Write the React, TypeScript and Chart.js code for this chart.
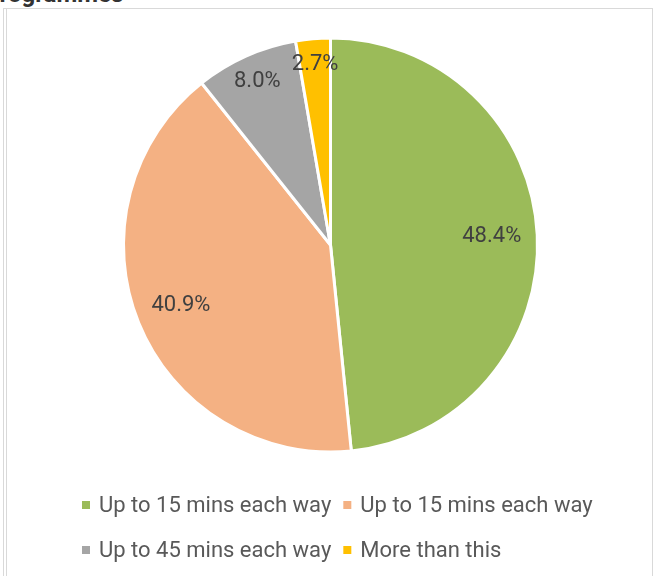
import { useEffect, useRef } from "react";
import { Chart, registerables } from "chart.js";

Chart.register(...registerables);

const categories = [
  "Up to 15 mins each way",
  "Up to 15 mins each way",
  "Up to 45 mins each way",
  "More than this",
];
const shares = [48.4, 40.9, 8.0, 2.7];
const valueLabels = ["48.4%", "40.9%", "8.0%", "2.7%"];
const sliceColors = ["#9BBB59", "#F4B183", "#A5A5A5", "#FFC000"];
const legendRows = [
  [0, 1],
  [2, 3],
];

const FONT = "Roboto, 'Open Sans', sans-serif";
const labelRadiusFrac = [0.78, 0.78, 0.865, 0.875];

const sliceLabelPlugin = {
  id: "sliceLabels",
  afterDatasetsDraw(chart: any) {
    const ctx = chart.ctx;
    const meta = chart.getDatasetMeta(0);
    ctx.save();
    ctx.font = `22px ${FONT}`;
    ctx.fillStyle = "#404040";
    ctx.textAlign = "center";
    ctx.textBaseline = "middle";
    meta.data.forEach((arc: any, i: number) => {
      const p = arc.getProps(["x", "y", "startAngle", "endAngle", "outerRadius"], true);
      const mid = (p.startAngle + p.endAngle) / 2;
      const r = p.outerRadius * labelRadiusFrac[i];
      ctx.fillText(valueLabels[i], p.x + Math.cos(mid) * r, p.y + Math.sin(mid) * r);
    });
    ctx.restore();
  },
};

const customLegendPlugin = {
  id: "customLegend",
  afterDraw(chart: any) {
    const ctx = chart.ctx;
    const labels = chart.data.labels as string[];
    const colors = chart.data.datasets[0].backgroundColor as string[];
    const startX = 82;
    const rowY = [505, 550];
    ctx.save();
    ctx.font = `22px ${FONT}`;
    ctx.textBaseline = "middle";
    ctx.textAlign = "left";
    legendRows.forEach((row, r) => {
      let x = startX;
      const y = rowY[r];
      row.forEach((idx) => {
        ctx.fillStyle = colors[idx];
        ctx.fillRect(x, y - 4, 8, 8);
        ctx.fillStyle = "#595959";
        ctx.fillText(labels[idx], x + 17, y + 1);
        x += 17 + ctx.measureText(labels[idx]).width + 12;
      });
    });
    ctx.restore();
  },
};

export default function App() {
  const canvasRef = useRef<HTMLCanvasElement | null>(null);

  useEffect(() => {
    if (!canvasRef.current) return;
    const chart = new Chart(canvasRef.current, {
      type: "pie",
      data: {
        labels: categories,
        datasets: [
          {
            data: shares,
            backgroundColor: sliceColors,
            borderColor: "#ffffff",
            borderWidth: 3,
          },
        ],
      },
      options: {
        animation: false,
        responsive: false,
        devicePixelRatio: 1,
        radius: 207,
        layout: { padding: { left: 7, right: 0, top: 0, bottom: 86 } },
        plugins: {
          legend: { display: false },
          tooltip: { enabled: false },
          title: { display: false },
        },
      } as any,
      plugins: [sliceLabelPlugin, customLegendPlugin],
    });
    return () => chart.destroy();
  }, []);

  return (
    <div
      style={{
        position: "fixed",
        left: 0,
        top: 0,
        width: 654,
        height: 576,
        overflow: "hidden",
        background: "#ffffff",
      }}
    >
      <div
        style={{
          position: "absolute",
          left: -16,
          top: -18,
          font: `bold 24px ${FONT}`,
          lineHeight: "24px",
          color: "#333333",
          whiteSpace: "nowrap",
        }}
      >
        Programmes
      </div>
      <canvas
        ref={canvasRef}
        width={654}
        height={576}
        style={{ position: "absolute", left: 0, top: 0, width: 654, height: 576 }}
      />
      <div style={{ position: "absolute", left: 3, top: 8, width: 650, height: 1, background: "#d9d9d9" }} />
      <div style={{ position: "absolute", left: 3, top: 8, width: 1, height: 568, background: "#d9d9d9" }} />
      <div style={{ position: "absolute", left: 6, top: 8, width: 1, height: 568, background: "#d9d9d9" }} />
      <div style={{ position: "absolute", left: 652, top: 8, width: 1, height: 568, background: "#d9d9d9" }} />
    </div>
  );
}
